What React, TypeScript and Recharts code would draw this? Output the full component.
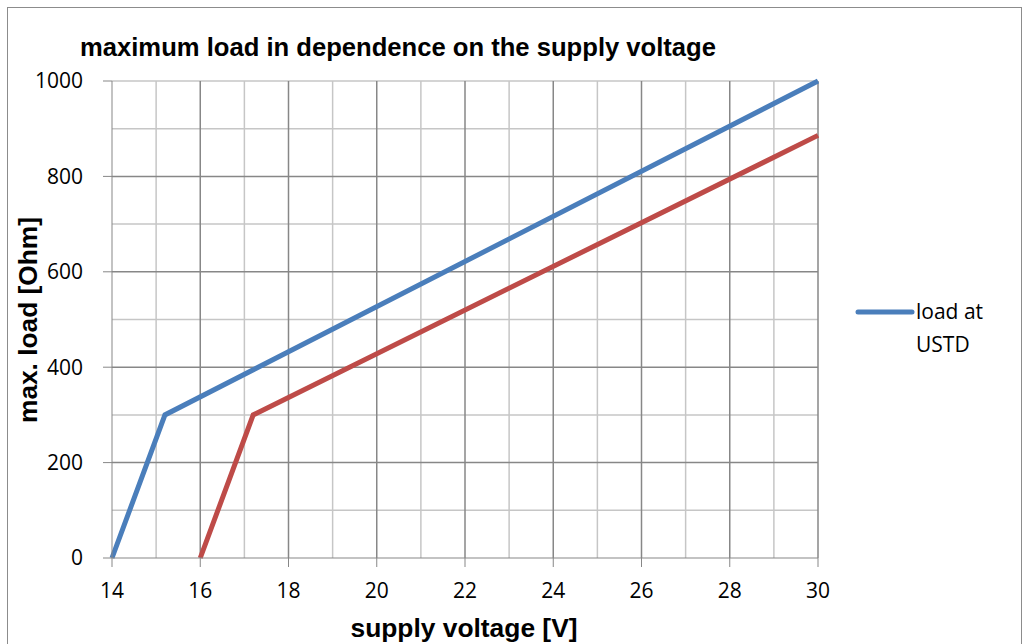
import React from 'react';
import { LineChart, Line, XAxis, YAxis, ReferenceLine, Legend } from 'recharts';

const xTicks = [14, 16, 18, 20, 22, 24, 26, 28, 30];
const yTicks = [0, 200, 400, 600, 800];
const xMinor = [15, 17, 19, 21, 23, 25, 27, 29];
const yMinor = [100, 300, 500, 700, 900, 1000];

const blueVoltage = [14, 15.2, 30];
const blueLoad = [0, 300, 1000];
const redVoltage = [16, 17.2, 30];
const redLoad = [0, 300, 886];

const blueData = blueVoltage.map((v, i) => ({ v, load: blueLoad[i] }));
const redData = redVoltage.map((v, i) => ({ v, load: redLoad[i] }));

const TITLE = 'maximum load in dependence on the supply voltage';
const X_TITLE = 'supply voltage [V]';
const Y_TITLE = 'max. load [Ohm]';
const LEGEND_LINES = ['load at', 'USTD'];

const BLUE = '#4a7ebb';
const RED = '#be4b48';
const MAJOR = '#878787';
const MINOR = '#c6c6c6';
const TICK_FONT = '"Open Sans", sans-serif';
const BOLD_FONT = '"Liberation Sans", Arial, sans-serif';

const LegendContent = () => (
  <div
    style={{
      position: 'absolute',
      left: 854,
      top: 296,
      display: 'flex',
      alignItems: 'flex-start',
      fontFamily: TICK_FONT,
      fontSize: 21,
      color: '#000',
      whiteSpace: 'nowrap',
    }}
  >
    <svg width={62} height={30} style={{ display: 'block' }}>
      <line x1={4} y1={16} x2={58} y2={16} stroke={BLUE} strokeWidth={5} strokeLinecap="round" />
    </svg>
    <div style={{ lineHeight: '33px', marginTop: -1 }}>
      {LEGEND_LINES.map((l) => (
        <div key={l}>{l}</div>
      ))}
    </div>
  </div>
);

export default function App() {
  return (
    <div style={{ position: 'absolute', left: 0, top: 0, width: 1029, height: 644, background: '#fff', overflow: 'hidden' }}>
      <LineChart
        width={1029}
        height={644}
        margin={{ top: 81, right: 211, bottom: 0, left: 0 }}
      >
        <XAxis
          dataKey="v"
          type="number"
          domain={[14, 30]}
          ticks={xTicks}
          allowDuplicatedCategory={false}
          height={86}
          tickSize={9}
          tickMargin={16}
          stroke={MAJOR}
          tick={{ fill: '#000', fontSize: 21, fontFamily: TICK_FONT }}
        />
        <YAxis
          type="number"
          domain={[0, 1000]}
          ticks={[...yTicks, 1000]}
          width={112}
          tickSize={9}
          tickMargin={20}
          stroke={MAJOR}
          tick={{ fill: '#000', fontSize: 21, fontFamily: TICK_FONT }}
        />
        {xMinor.map((x) => (
          <ReferenceLine key={'xm' + x} x={x} stroke={MINOR} strokeWidth={1.5} />
        ))}
        {yMinor.map((y) => (
          <ReferenceLine key={'ym' + y} y={y} stroke={MINOR} strokeWidth={1.5} />
        ))}
        {xTicks.slice(1).map((x) => (
          <ReferenceLine key={'xM' + x} x={x} stroke={MAJOR} strokeWidth={1.5} />
        ))}
        {yTicks.slice(1).map((y) => (
          <ReferenceLine key={'yM' + y} y={y} stroke={MAJOR} strokeWidth={1.5} />
        ))}
        <Line
          data={blueData}
          dataKey="load"
          name="load at USTD"
          stroke={BLUE}
          strokeWidth={5}
          dot={false}
          isAnimationActive={false}
        />
        <Line
          data={redData}
          dataKey="load"
          name="red"
          legendType="none"
          stroke={RED}
          strokeWidth={5}
          dot={false}
          isAnimationActive={false}
        />
        <Legend
          content={<LegendContent />}
          wrapperStyle={{ position: 'absolute', left: 0, top: 0, width: 0, height: 0, overflow: 'visible' }}
        />
      </LineChart>
      <svg
        width={1029}
        height={644}
        style={{ position: 'absolute', left: 0, top: 0, pointerEvents: 'none' }}
      >
        <rect x={7.5} y={7.5} width={1014} height={660} fill="none" stroke="#8c8c8c" strokeWidth={1} />
        <text x={80} y={56} fontFamily={BOLD_FONT} fontWeight="bold" fontSize={25} textLength={636} lengthAdjust="spacingAndGlyphs" fill="#000">
          {TITLE}
        </text>
        <text x={464} y={637} textAnchor="middle" fontFamily={BOLD_FONT} fontWeight="bold" fontSize={25} textLength={227} lengthAdjust="spacingAndGlyphs" fill="#000">
          {X_TITLE}
        </text>
        <text
          x={37}
          y={320}
          textAnchor="middle"
          transform="rotate(-90 37 320)"
          fontFamily={BOLD_FONT}
          fontWeight="bold"
          fontSize={25}
          textLength={206}
          lengthAdjust="spacingAndGlyphs"
          fill="#000"
        >
          {Y_TITLE}
        </text>
      </svg>
    </div>
  );
}
